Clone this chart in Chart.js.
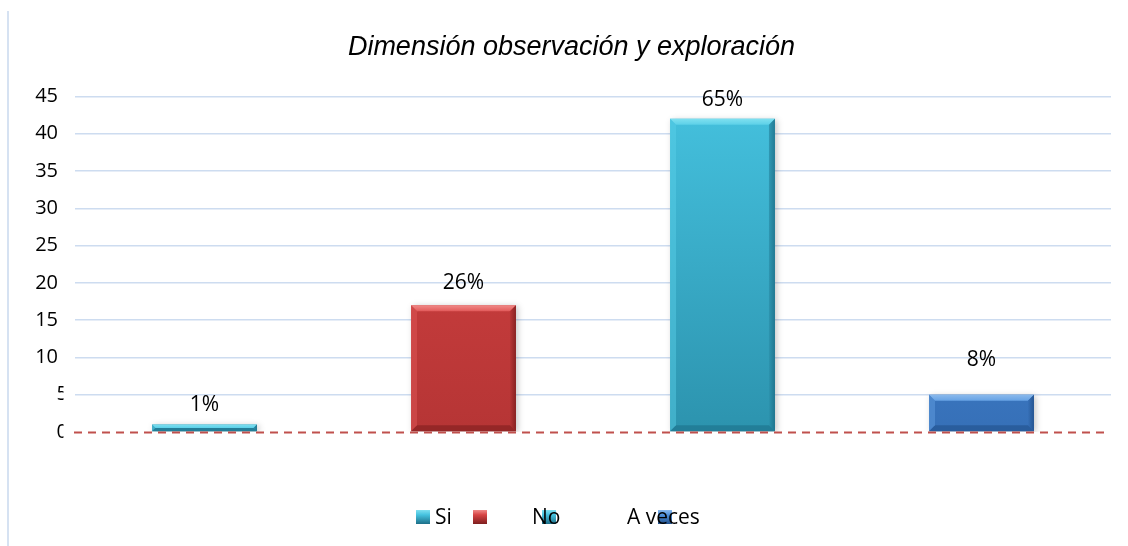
<!DOCTYPE html>
<html><head><meta charset="utf-8">
<script src="https://cdn.jsdelivr.net/npm/chart.js@4.4.1/dist/chart.umd.min.js"></script>
<style>
html,body{margin:0;padding:0;background:#fff;}
canvas{display:block;}
</style></head><body>
<canvas id="c" width="1128" height="546"></canvas>
<script>
// ---- data ----
const categories = ['Si', 'No', 'Si', 'A veces'];
const values = [1, 17, 42, 5];
const pctLabels = ['1%', '26%', '65%', '8%'];
const legendLabels = ['Si', 'No', 'A veces'];
const titleText = 'Dimensión observación y exploración';
const yMin = 0, yMax = 45, yStep = 5;

// ---- styles ----
const palettes = {
  cyan: {top: '#7fe0f0', hi: '#45c2df', lo: '#2c93ae', side: '#5cd0e8', dark: '#1d6f88'},
  red:  {top: '#f08a88', hi: '#d74444', lo: '#b63535', side: '#e25a5a', dark: '#7e1e1e'},
  blue: {top: '#8ab9ec', hi: '#4d8fdb', lo: '#3670b8', side: '#66a2e4', dark: '#22508a'}
};
const barPal = [palettes.cyan, palettes.red, palettes.cyan, palettes.blue];
const FONT = "'Open Sans', 'Liberation Sans', sans-serif";

const chromePlugin = {
  id: 'chrome',
  beforeDraw(chart) {
    const ctx = chart.ctx;
    ctx.save();
    ctx.fillStyle = '#d6e2f2';
    ctx.fillRect(7, 11, 2, 535);
    ctx.restore();
  },
  beforeDatasetsDraw(chart) {
    const ctx = chart.ctx;
    ctx.save();
    ctx.shadowColor = 'rgba(0,0,0,0.22)';
    ctx.shadowBlur = 6;
    ctx.shadowOffsetX = 2;
    ctx.shadowOffsetY = 1;
  },
  afterDatasetsDraw(chart, args, opts) {
    const ctx = chart.ctx;
    ctx.restore();
    const meta = chart.getDatasetMeta(0);
    const ys = chart.scales.y;
    meta.data.forEach((bar, i) => {
      const p = bar.getProps(['x', 'y', 'base', 'width'], true);
      const l = p.x - p.width / 2, r = p.x + p.width / 2, t = p.y, b = p.base;
      const h = b - t;
      const bv = Math.min(6, h / 2);
      const pal = barPal[i];
      ctx.save();
      // top bevel
      let g = ctx.createLinearGradient(0, t, 0, t + bv);
      g.addColorStop(0, pal.top); g.addColorStop(1, pal.side);
      ctx.fillStyle = g;
      ctx.beginPath(); ctx.moveTo(l, t); ctx.lineTo(r, t); ctx.lineTo(r - bv, t + bv); ctx.lineTo(l + bv, t + bv); ctx.closePath(); ctx.fill();
      // left bevel
      ctx.globalAlpha = 0.45;
      ctx.fillStyle = pal.side;
      ctx.beginPath(); ctx.moveTo(l, t); ctx.lineTo(l + bv, t + bv); ctx.lineTo(l + bv, b - bv); ctx.lineTo(l, b); ctx.closePath(); ctx.fill();
      // right bevel
      ctx.globalAlpha = 0.85;
      g = ctx.createLinearGradient(r - bv, 0, r, 0);
      g.addColorStop(0, pal.lo); g.addColorStop(1, pal.dark);
      ctx.fillStyle = g;
      ctx.beginPath(); ctx.moveTo(r, t); ctx.lineTo(r, b); ctx.lineTo(r - bv, b - bv); ctx.lineTo(r - bv, t + bv); ctx.closePath(); ctx.fill();
      // bottom bevel
      ctx.globalAlpha = 0.6;
      ctx.fillStyle = pal.dark;
      ctx.beginPath(); ctx.moveTo(l, b); ctx.lineTo(r, b); ctx.lineTo(r - bv, b - bv); ctx.lineTo(l + bv, b - bv); ctx.closePath(); ctx.fill();
      ctx.restore();
      // value label
      ctx.save();
      ctx.fillStyle = '#000';
      ctx.font = '21px ' + FONT;
      ctx.textAlign = 'center';
      ctx.textBaseline = 'middle';
      ctx.fillText(pctLabels[i], p.x, t - opts.labelOffsets[i]);
      ctx.restore();
    });
    // dashed zero line
    const y0 = Math.round(ys.getPixelForValue(0)) + 0.5;
    ctx.save();
    ctx.strokeStyle = '#c0504d';
    ctx.lineWidth = 2;
    ctx.setLineDash([8, 6]);
    ctx.beginPath();
    ctx.moveTo(chart.chartArea.left - 1, y0);
    ctx.lineTo(chart.chartArea.right - 4, y0);
    ctx.stroke();
    ctx.restore();
  },
  afterDraw(chart, args, opts) {
    const ctx = chart.ctx;
    const ys = chart.scales.y;
    // clipped low tick labels
    ctx.save();
    ctx.beginPath(); ctx.rect(0, 0, 63.5, 546); ctx.clip();
    ctx.fillStyle = '#000';
    ctx.font = '20px ' + FONT;
    ctx.textAlign = 'left';
    ctx.textBaseline = 'middle';
    [yStep, yMin].forEach(v => ctx.fillText(String(v), 56.5, ys.getPixelForValue(v)));
    ctx.restore();
    // legend
    ctx.save();
    const ly = 517;
    opts.legendBoxX.forEach((bx, i) => {
      const pal = barPal[i];
      const g = ctx.createLinearGradient(0, ly - 7, 0, ly + 7);
      g.addColorStop(0, pal.top); g.addColorStop(0.35, pal.hi); g.addColorStop(1, pal.dark);
      ctx.fillStyle = g;
      ctx.fillRect(bx, ly - 7, 14, 14);
    });
    ctx.fillStyle = '#000';
    ctx.font = '21px ' + FONT;
    ctx.textAlign = 'left';
    ctx.textBaseline = 'middle';
    legendLabels.forEach((t, i) => ctx.fillText(t, opts.legendTextX[i], ly + 1));
    ctx.restore();
  }
};

new Chart(document.getElementById('c'), {
  type: 'bar',
  data: {
    labels: categories,
    datasets: [{
      data: values,
      borderWidth: 0,
      barPercentage: 0.405,
      categoryPercentage: 1,
      backgroundColor: (c) => {
        const pal = barPal[c.dataIndex];
        const chart = c.chart;
        if (!chart.chartArea) return pal.hi;
        const g = chart.ctx.createLinearGradient(0, chart.chartArea.top, 0, chart.chartArea.bottom);
        g.addColorStop(0, pal.hi);
        g.addColorStop(1, pal.lo);
        return g;
      }
    }]
  },
  options: {
    responsive: false,
    animation: false,
    devicePixelRatio: 1,
    layout: {padding: {left: 32, right: 17, top: 0, bottom: 114}},
    plugins: {
      legend: {display: false},
      tooltip: {enabled: false},
      title: {
        display: true,
        text: titleText,
        color: '#000',
        font: {family: "'Liberation Sans', Arial, sans-serif", size: 27, style: 'italic', weight: 'normal', lineHeight: 1.2},
        padding: {top: 31, bottom: 33}
      },
      chrome: {
        labelOffsets: [20, 22, 19, 35],
        legendBoxX: [416, 473, 542, 658],
        legendTextX: [435, 532, 627]
      }
    },
    scales: {
      x: {display: false},
      y: {
        min: yMin, max: yMax,
        border: {display: false},
        grid: {
          drawTicks: false,
          lineWidth: 1.5,
          color: (c) => c.tick && c.tick.value === 0 ? 'rgba(0,0,0,0)' : '#cddcf0'
        },
        ticks: {
          stepSize: yStep,
          padding: 17,
          color: '#000',
          font: {family: FONT, size: 20},
          callback: (v) => (v === yMin || v === yStep) ? '' : String(v)
        },
        afterFit: (s) => { s.width = 43; }
      }
    }
  },
  plugins: [chromePlugin]
});
</script>
</body></html>
